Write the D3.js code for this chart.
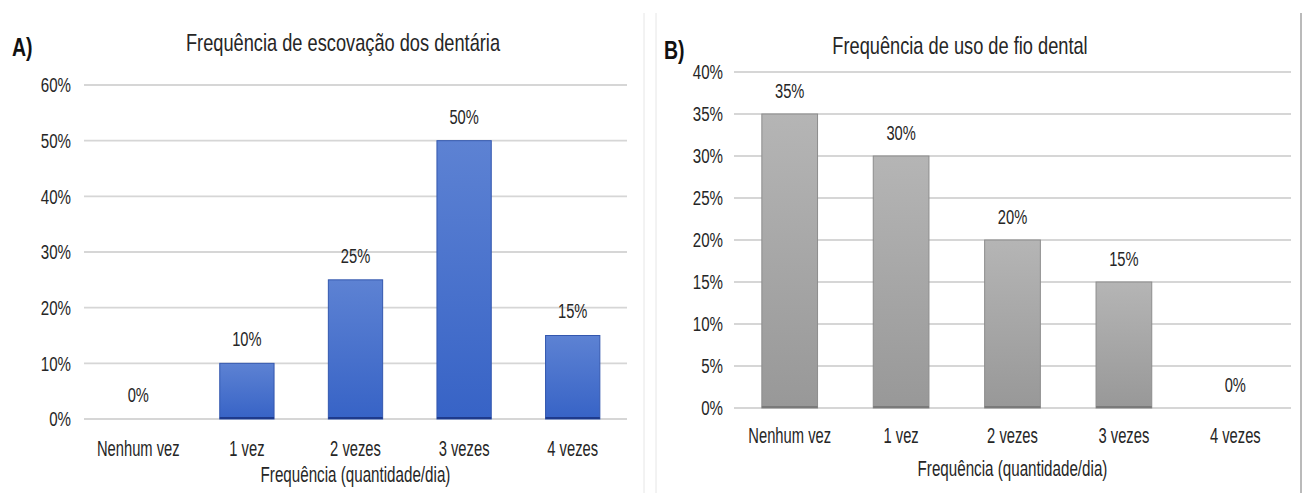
<!DOCTYPE html>
<html>
<head>
<meta charset="utf-8">
<script src="https://cdn.jsdelivr.net/npm/d3@7"></script>
<style>
  html, body { margin: 0; padding: 0; background: #fff; }
  svg text { font-family: "Liberation Sans", Arial, sans-serif; fill: #262626; }
  /* condensed look: horizontal squeeze around the text's anchor */
  .nc { transform-box: fill-box; transform-origin: center center; }
  .ne { transform-box: fill-box; transform-origin: right center; }
  .ns { transform-box: fill-box; transform-origin: left center; }
</style>
</head>
<body>
<svg id="chart" width="1307" height="493"></svg>
<script>
// Shared categories
const categories = ["Nenhum vez", "1 vez", "2 vezes", "3 vezes", "4 vezes"];

// A) tooth brushing frequency (%)
const brushingValues = [0, 10, 25, 50, 15];
const brushingTicks = [0, 10, 20, 30, 40, 50, 60];

// B) dental floss frequency (%)
const flossValues = [35, 30, 20, 15, 0];
const flossTicks = [0, 5, 10, 15, 20, 25, 30, 35, 40];

const svg = d3.select("#chart");
const defs = svg.append("defs");

// condensed text style: font size plus horizontal squeeze
function squeeze(sel, cls, size, sx) {
  sel.attr("class", cls).attr("font-size", size)
    .style("transform", `scaleX(${sx})`)
    .style("fill", "#262626")
    .style("font-family", '"Liberation Sans", Arial, sans-serif');
  return sel;
}

function gradient(id, top, bottom) {
  const g = defs.append("linearGradient").attr("id", id)
    .attr("x1", 0).attr("y1", 0).attr("x2", 0).attr("y2", 1);
  g.append("stop").attr("offset", "0%").attr("stop-color", top);
  g.append("stop").attr("offset", "100%").attr("stop-color", bottom);
}
gradient("gradBlue", "#5d82d3", "#3763c6");
gradient("gradGray", "#b5b5b5", "#989898");

// panel separators
const separators = [
  { x: 644, color: "#e6e6e6", w: 1 },
  { x: 656, color: "#e6e6e6", w: 1 },
  { x: 1301, color: "#a3a3a3", w: 1.5 }
];
svg.append("g").selectAll("line").data(separators).join("line")
  .attr("x1", d => d.x).attr("x2", d => d.x)
  .attr("y1", 13).attr("y2", 493)
  .attr("stroke", d => d.color).attr("stroke-width", d => d.w);

function panel(cfg) {
  const g = svg.append("g");

  const x = d3.scaleBand().domain(categories).range([cfg.x0, cfg.x1]).paddingInner(0.5).paddingOuter(0.25);
  const y = d3.scaleLinear().domain([0, d3.max(cfg.ticks)]).range([cfg.y0, cfg.y1]);

  // horizontal grid
  g.append("g").selectAll("line").data(cfg.ticks).join("line")
    .attr("x1", cfg.x0).attr("x2", cfg.x1)
    .attr("y1", d => y(d)).attr("y2", d => y(d))
    .attr("stroke", "#d6d6d6").attr("stroke-width", 1.8);

  // y axis labels
  const yAxis = d3.axisLeft(y).tickValues(cfg.ticks).tickFormat(d => d + "%").tickSize(0).tickPadding(cfg.tickPad);
  const ya = g.append("g").attr("transform", `translate(${cfg.x0},0)`).call(yAxis);
  ya.select(".domain").remove();
  squeeze(ya.selectAll("text"), "ne", 21, 0.72);

  // bars
  g.append("g").selectAll("rect").data(cfg.values).join("rect")
    .attr("x", (d, i) => x(categories[i]))
    .attr("y", d => y(d))
    .attr("width", x.bandwidth())
    .attr("height", d => y(0) - y(d))
    .attr("fill", cfg.fill)
    .attr("stroke", cfg.stroke).attr("stroke-width", 1)
    .attr("display", d => d > 0 ? null : "none");

  // darker base edge of each bar
  g.append("g").selectAll("line").data(cfg.values).join("line")
    .attr("x1", (d, i) => x(categories[i]))
    .attr("x2", (d, i) => x(categories[i]) + x.bandwidth())
    .attr("y1", y(0) - 1).attr("y2", y(0) - 1)
    .attr("stroke", cfg.baseColor).attr("stroke-width", 2)
    .attr("display", d => d > 0 ? null : "none");

  // value labels
  const vl = g.append("g").selectAll("text").data(cfg.values).join("text")
    .attr("x", (d, i) => x(categories[i]) + x.bandwidth() / 2)
    .attr("y", d => y(d) - cfg.labelGap)
    .attr("text-anchor", "middle")
    .text(d => d + "%");
  squeeze(vl, "nc", 21, 0.7);

  // x axis category labels
  const xAxis = d3.axisBottom(x).tickSize(0).tickPadding(cfg.xPad);
  const xa = g.append("g").attr("transform", `translate(0,${cfg.y0})`).call(xAxis);
  xa.select(".domain").remove();
  squeeze(xa.selectAll("text"), "nc", 22, 0.67);

  // x axis title
  squeeze(g.append("text")
    .attr("x", (cfg.x0 + cfg.x1) / 2).attr("y", cfg.axisTitleY)
    .attr("text-anchor", "middle")
    .text("Frequência (quantidade/dia)"), "nc", 22, 0.69);

  // chart title
  squeeze(g.append("text")
    .attr("x", cfg.titleX).attr("y", cfg.titleY)
    .attr("text-anchor", "middle")
    .text(cfg.title), "nc", 24, 0.76);

  // panel letter
  squeeze(g.append("text")
    .attr("x", cfg.letterX).attr("y", cfg.letterY)
    .attr("font-weight", "bold")
    .text(cfg.letter), "ns", 26, 0.75)
    .style("fill", "#111");
}

panel({
  values: brushingValues, ticks: brushingTicks,
  x0: 84, x1: 627, y0: 419, y1: 85,
  tickPad: 13, xPad: 21, labelGap: 17, axisTitleY: 482,
  fill: "url(#gradBlue)", stroke: "#3357ae", baseColor: "#1e3a8c",
  title: "Frequência de escovação dos dentária", titleX: 343, titleY: 51,
  letter: "A)", letterX: 12, letterY: 56
});

panel({
  values: flossValues, ticks: flossTicks,
  x0: 734, x1: 1291, y0: 408, y1: 72,
  tickPad: 11, xPad: 19.5, labelGap: 16, axisTitleY: 476,
  fill: "url(#gradGray)", stroke: "#8c8c8c", baseColor: "#7a7a7a",
  title: "Frequência de uso de fio dental", titleX: 960, titleY: 54,
  letter: "B)", letterX: 664, letterY: 59
});
</script>
</body>
</html>
